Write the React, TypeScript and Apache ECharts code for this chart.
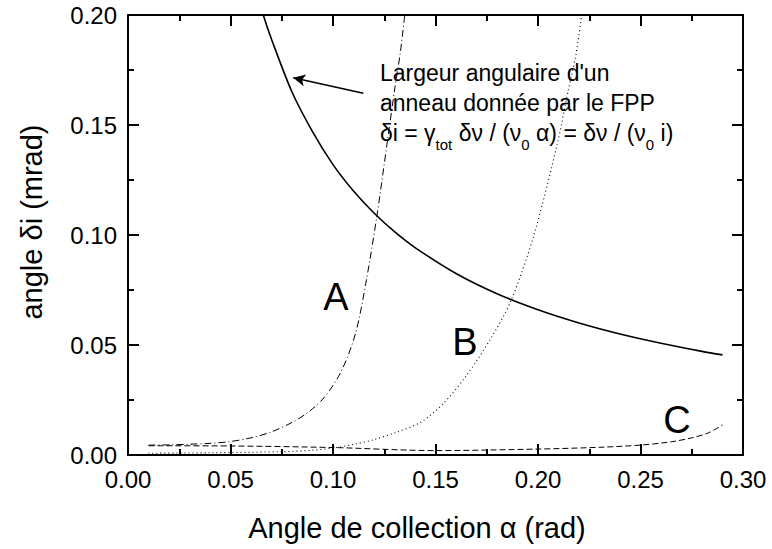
import React, { useEffect, useRef } from "react";
import * as echarts from "echarts";

// Curve data (alpha in rad, delta-i in mrad)
const solidAlpha = [0.06, 0.066, 0.07, 0.08, 0.09, 0.1, 0.11, 0.12, 0.13, 0.14, 0.16, 0.18, 0.2, 0.22, 0.24, 0.26, 0.28, 0.29];
const solidVal = [0.22, 0.2, 0.189, 0.165, 0.147, 0.132, 0.12, 0.11, 0.1015, 0.0943, 0.0825, 0.0733, 0.066, 0.06, 0.055, 0.0508, 0.0471, 0.0455];

const aAlpha = [0.01, 0.02, 0.03, 0.04, 0.049, 0.06, 0.07, 0.08, 0.088, 0.096, 0.104, 0.111, 0.116, 0.1213, 0.1263, 0.1302, 0.1327, 0.135];
const aVal = [0.0045, 0.0046, 0.0049, 0.0053, 0.006, 0.0078, 0.0105, 0.0148, 0.0195, 0.0265, 0.038, 0.0553, 0.078, 0.108, 0.141, 0.167, 0.182, 0.2];

const bAlpha = [0.01, 0.04, 0.075, 0.09, 0.101, 0.11, 0.12, 0.13, 0.143, 0.154, 0.165, 0.177, 0.187, 0.198, 0.2093, 0.2146, 0.2185, 0.2213];
const bVal = [0.0008, 0.001, 0.0015, 0.0022, 0.0033, 0.0048, 0.007, 0.01, 0.015, 0.0236, 0.036, 0.053, 0.0705, 0.1, 0.141, 0.165, 0.182, 0.2];

const cAlpha = [0.01, 0.05, 0.1, 0.15, 0.2, 0.23, 0.25, 0.265, 0.275, 0.283, 0.29];
const cVal = [0.0042, 0.0041, 0.0034, 0.002, 0.0027, 0.0035, 0.0045, 0.006, 0.0078, 0.01, 0.0136];

const xTicks = { min: 0, max: 0.3, interval: 0.05 };
const yTicks = { min: 0, max: 0.2, interval: 0.05 };

const xName = "Angle de collection α (rad)";
const yName = "angle δi (mrad)";
const noteLine1 = "Largeur angulaire d'un";
const noteLine2 = "anneau donnée par le FPP";
const curveLabels = ["A", "B", "C"];

// Arrow annotation in data coordinates [alpha, value]
const arrowTail = [0.1148, 0.1644];
const arrowHead = [0.0806, 0.1715];

const FONT = "'Liberation Sans', Arial, Helvetica, sans-serif";

const GRID = { left: 128, right: 29, top: 15, bottom: 94 };

export default function App() {
  const ref = useRef<HTMLDivElement>(null);
  useEffect(() => {
    if (!ref.current) return;
    const chart = echarts.init(ref.current, undefined, { renderer: "svg" });
    const zip = (xs: number[], ys: number[]) => xs.map((x, i) => [x, ys[i]]);
    const mkAxisLine = () => ({ show: true, onZero: false, lineStyle: { color: "#000", width: 2 } });
    const mkTick = () => ({ show: true, inside: true, length: 11, lineStyle: { color: "#000", width: 2 } });
    const mkMinor = () => ({ show: true, splitNumber: 2, length: 6, lineStyle: { color: "#000", width: 2 } });
    const labelStyle = { color: "#000", fontSize: 24, fontFamily: FONT };

    const option: any = {
      animation: false,
      backgroundColor: "#fff",
      grid: { ...GRID, containLabel: false },
      xAxis: [
        {
          show: true, type: "value", position: "bottom", ...xTicks,
          axisLine: mkAxisLine(), axisTick: mkTick(), minorTick: mkMinor(), splitLine: { show: false },
          axisLabel: { ...labelStyle, margin: 12, formatter: (v: number) => v.toFixed(2) },
        },
        {
          show: true, type: "value", position: "top", ...xTicks,
          axisLine: mkAxisLine(), axisTick: mkTick(), minorTick: mkMinor(), splitLine: { show: false },
          axisLabel: { show: false },
        },
      ],
      yAxis: [
        {
          show: true, type: "value", position: "left", ...yTicks,
          axisLine: mkAxisLine(), axisTick: mkTick(), minorTick: mkMinor(), splitLine: { show: false },
          axisLabel: { ...labelStyle, margin: 11, formatter: (v: number) => v.toFixed(2) },
        },
        {
          show: true, type: "value", position: "right", ...yTicks,
          axisLine: mkAxisLine(), axisTick: mkTick(), minorTick: mkMinor(), splitLine: { show: false },
          axisLabel: { show: false },
        },
      ],
      series: [
        {
          type: "line", data: zip(solidAlpha, solidVal), showSymbol: false, smooth: 0.3,
          lineStyle: { color: "#000", width: 1.6, type: "solid" }, clip: true,
          markLine: {
            silent: true, animation: false, symbol: ["none", "arrow"], symbolSize: [9, 12],
            label: { show: false },
            lineStyle: { color: "#000", width: 1.6, type: "solid" },
            data: [[{ coord: arrowTail }, { coord: arrowHead }]],
          },
        },
        {
          type: "line", data: zip(aAlpha, aVal), showSymbol: false, smooth: 0.3, clip: true,
          lineStyle: { color: "#000", width: 1, type: [7, 3, 1, 3] },
        },
        {
          type: "line", data: zip(bAlpha, bVal), showSymbol: false, smooth: 0.3, clip: true,
          lineStyle: { color: "#000", width: 1.1, type: [1, 3] },
        },
        {
          type: "line", data: zip(cAlpha, cVal), showSymbol: false, smooth: 0.3, clip: true,
          lineStyle: { color: "#000", width: 1, type: [6, 3] },
        },
      ],
      graphic: [
        { type: "text", x: 417, y: 528, style: { text: xName, font: `29px ${FONT}`, fill: "#000", align: "center", verticalAlign: "middle" } },
        { type: "text", x: 32, y: 222, rotation: Math.PI / 2, style: { text: yName, font: `29px ${FONT}`, fill: "#000", align: "center", verticalAlign: "middle" } },
        { type: "text", x: 380, y: 73, style: { text: noteLine1, font: `23px ${FONT}`, fill: "#000", align: "left", verticalAlign: "middle" } },
        { type: "text", x: 380, y: 103, style: { text: noteLine2, font: `23px ${FONT}`, fill: "#000", align: "left", verticalAlign: "middle" } },
        {
          type: "text", x: 380, y: 133,
          style: {
            text: "{m|δi = γ}{s|tot}{m| δν / (ν}{s|0}{m| α) = δν / (ν}{s|0}{m| i)}",
            align: "left", verticalAlign: "middle", fill: "#000",
            rich: {
              m: { fontSize: 23, fontFamily: FONT, lineHeight: 38, verticalAlign: "middle", fill: "#000" },
              s: { fontSize: 15, fontFamily: FONT, lineHeight: 15, verticalAlign: "bottom", fill: "#000" },
            },
          },
        },
        { type: "text", x: 336, y: 297, style: { text: curveLabels[0], font: `38px ${FONT}`, fill: "#000", align: "center", verticalAlign: "middle" } },
        { type: "text", x: 465, y: 342, style: { text: curveLabels[1], font: `38px ${FONT}`, fill: "#000", align: "center", verticalAlign: "middle" } },
        { type: "text", x: 677, y: 420, style: { text: curveLabels[2], font: `38px ${FONT}`, fill: "#000", align: "center", verticalAlign: "middle" } },
      ],
    };
    chart.setOption(option);
    return () => chart.dispose();
  }, []);
  return (
    <div
      ref={ref}
      style={{ position: "fixed", left: 0, top: 0, width: 772, height: 549, background: "#fff" }}
    />
  );
}
